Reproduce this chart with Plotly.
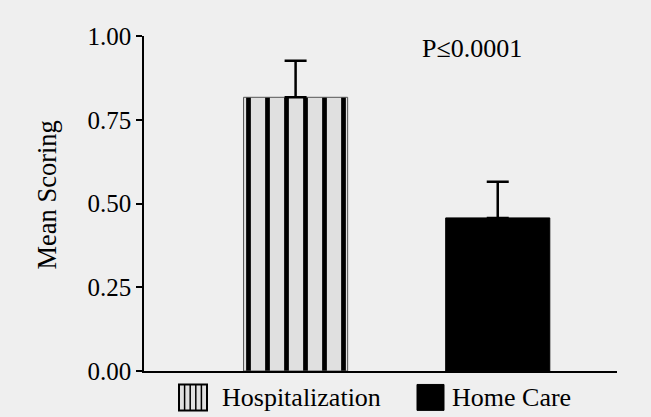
import plotly.graph_objects as go

categories = ["Hospitalization", "Home Care"]
means = [0.817, 0.457]
errors = [0.109, 0.108]
y_ticks = [0.0, 0.25, 0.5, 0.75, 1.0]
y_tick_labels = ["0.00", "0.25", "0.50", "0.75", "1.00"]
p_text = "P≤0.0001"

W, H = 651, 417
L, R, T, B = 144, 34, 35.5, 45.5
pw, ph = W - L - R, H - T - B
FONT = "Liberation Serif"
BG = "#efefef"

def px(x):
    return (x - L) / pw

def py(y):
    return (H - B - y) / ph

fig = go.Figure()
fig.add_trace(go.Bar(
    x=[0], y=[means[0]], width=0.515, name=categories[0],
    marker=dict(color="#e0e0e0", line=dict(color="#555555", width=1),
                pattern=dict(shape="|", fgcolor="black", bgcolor="#e0e0e0",
                             fgopacity=1, size=19, solidity=0.25, fillmode="replace")),
    error_y=dict(type="data", array=[errors[0]], symmetric=False, arrayminus=[0],
                 color="black", thickness=2.5, width=11),
    showlegend=False,
))
fig.add_trace(go.Bar(
    x=[1], y=[means[1]], width=0.515, name=categories[1],
    marker=dict(color="black", line=dict(color="black", width=1)),
    error_y=dict(type="data", array=[errors[1]], symmetric=False, arrayminus=[0],
                 color="black", thickness=2.5, width=11),
    showlegend=False,
))

shapes = []
# legend swatch: hospitalization (striped)
x0, x1, y0, y1 = 179, 207, 385, 411
shapes.append(dict(type="rect", xref="paper", yref="paper",
                   x0=px(x0), x1=px(x1), y0=py(y1), y1=py(y0),
                   fillcolor="#e0e0e0", line=dict(color="black", width=2)))
for k in range(1, 5):
    xx = x0 + k * (x1 - x0) / 5
    shapes.append(dict(type="line", xref="paper", yref="paper",
                       x0=px(xx), x1=px(xx), y0=py(y1), y1=py(y0),
                       line=dict(color="black", width=1.5)))
# legend swatch: home care (solid)
x0, x1 = 417, 444
shapes.append(dict(type="rect", xref="paper", yref="paper",
                   x0=px(x0), x1=px(x1), y0=py(y1), y1=py(y0),
                   fillcolor="black", line=dict(color="black", width=1)))

annotations = [
    dict(text=categories[0], xref="paper", yref="paper", x=px(220), y=py(398),
         xanchor="left", yanchor="middle", showarrow=False,
         font=dict(family=FONT, size=26, color="black")),
    dict(text=categories[1], xref="paper", yref="paper", x=px(450), y=py(398),
         xanchor="left", yanchor="middle", showarrow=False,
         font=dict(family=FONT, size=26, color="black")),
    dict(text=p_text, xref="paper", yref="paper", x=px(420), y=py(48),
         xanchor="left", yanchor="middle", showarrow=False,
         font=dict(family=FONT, size=26, color="black")),
    dict(text="Mean Scoring", xref="paper", yref="paper", x=px(47.5), y=py(195),
         xanchor="center", yanchor="middle", showarrow=False, textangle=-90,
         font=dict(family=FONT, size=26.5, color="black")),
]

fig.update_layout(
    width=W, height=H,
    margin=dict(l=L, r=R, t=T, b=B, pad=0),
    paper_bgcolor=BG, plot_bgcolor=BG,
    font=dict(family=FONT, size=25, color="black"),
    barmode="overlay",
    shapes=shapes, annotations=annotations,
    xaxis=dict(range=[-0.75, 1.59], showgrid=False, zeroline=False,
               showticklabels=False, ticks="", showline=True,
               linecolor="black", linewidth=1.5, fixedrange=True),
    yaxis=dict(range=[0, 1.0], tickvals=y_ticks, ticktext=y_tick_labels,
               showgrid=False, zeroline=False, showline=True,
               linecolor="black", linewidth=1.5, ticks="outside",
               ticklen=6, tickwidth=1.5, tickcolor="black",
               tickfont=dict(family=FONT, size=25, color="black")),
)

fig.write_html("out.html", config={"displayModeBar": False})
with open("out.html", "r", encoding="utf-8") as f:
    html = f.read()
html = html.replace("<head>", "<head><style>html,body{margin:0;padding:0;overflow:hidden;background:#efefef;}</style>", 1)
with open("out.html", "w", encoding="utf-8") as f:
    f.write(html)
